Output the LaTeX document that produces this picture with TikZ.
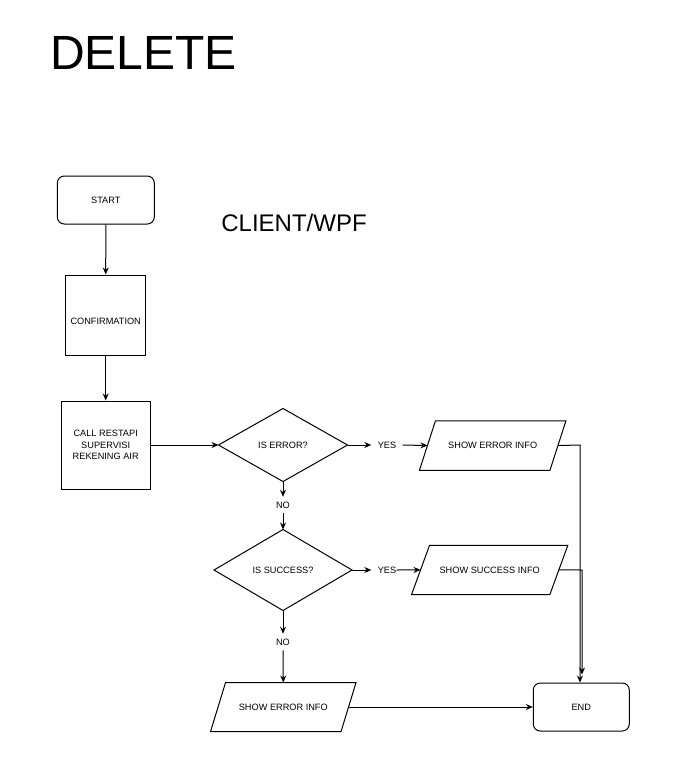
\documentclass[tikz,border=0pt]{standalone}
\usepackage{fontspec}
\setmainfont{Liberation Sans}
\usetikzlibrary{arrows.meta,calc}
\begin{document}
\begin{tikzpicture}[x=1pt,y=-1pt,
  every path/.style={line width=1pt},
  lbl/.style={font=\fontsize{9.2}{11.5}\selectfont, align=center, inner sep=0pt},
  term/.style={draw, rounded corners=7pt, line width=1pt, lbl, minimum width=97pt, minimum height=48pt},
  proc/.style={draw, line width=1pt, lbl},
  dec/.style={draw, line width=1pt, lbl, shape=diamond, aspect=1.8, inner sep=0pt},
  io/.style={lbl},
  edgelbl/.style={lbl, inner xsep=6pt, inner ysep=4.5pt},
  arr/.style={-{Stealth[length=7pt,width=6pt]}, line width=1pt}
]
\useasboundingbox (0,0) rectangle (684,777);
\fill[white] (0,0) rectangle (684,777);

% titles
\node[font=\fontsize{48}{48}\selectfont, anchor=center, inner sep=0pt] (title) at (143.5,53) {DELETE};
\node[font=\fontsize{24}{24}\selectfont, inner sep=0pt] (client) at (294,223) {CLIENT/WPF};

% nodes
\node[term] (start) at (105.8,200) {START};
\node[proc, minimum width=80pt, minimum height=80pt, text height=18.5pt, text depth=0pt] (conf) at (105.7,315) {CONFIRMATION};
\node[proc, minimum width=89pt, minimum height=88pt] (call) at (105.7,445) {CALL RESTAPI\\SUPERVISI\\REKENING AIR};

% diamonds drawn as paths with named coordinate-nodes
\node[lbl, minimum width=128pt, minimum height=72pt] (iserr) at (283,445) {IS ERROR?};
\draw (iserr.west) -- (iserr.north) -- (iserr.east) -- (iserr.south) -- cycle;
\node[lbl, minimum width=137pt, minimum height=80pt] (issucc) at (283,570) {IS SUCCESS?};
\draw (issucc.west) -- (issucc.north) -- (issucc.east) -- (issucc.south) -- cycle;

% parallelograms
\node[io, minimum width=129.5pt, minimum height=48.5pt] (err1) at (492.7,445.5) {SHOW ERROR INFO};
\draw ($(err1.north west)+(8,0)$) -- ($(err1.north east)+(8,0)$) -- ($(err1.south east)+(-8,0)$) -- ($(err1.south west)+(-8,0)$) -- cycle;
\node[io, minimum width=137.3pt, minimum height=48.3pt] (succ) at (489.7,569.9) {SHOW SUCCESS INFO};
\draw ($(succ.north west)+(9,0)$) -- ($(succ.north east)+(9,0)$) -- ($(succ.south east)+(-9,0)$) -- ($(succ.south west)+(-9,0)$) -- cycle;
\node[io, minimum width=129.5pt, minimum height=48pt] (err2) at (283.3,707) {SHOW ERROR INFO};
\draw ($(err2.north west)+(7.5,0)$) -- ($(err2.north east)+(7.5,0)$) -- ($(err2.south east)+(-7.5,0)$) -- ($(err2.south west)+(-7.5,0)$) -- cycle;

\node[term, minimum width=96pt] (end) at (581.3,707) {END};

% edge labels
\node[edgelbl] (yes1) at (387,445) {YES};
\node[edgelbl] (yes2) at (387,570) {YES};
\node[edgelbl] (no1) at (283,505) {NO};
\node[edgelbl] (no2) at (283,642) {NO};

% connectors
\draw[arr] (start) -- (conf);
\draw[arr] (conf) -- (call);
\draw[arr] (call.east) -- (iserr.west);
\draw[arr] (iserr.east) -- (yes1.west);
\draw[arr] (yes1.east) -- (err1.west);
\draw[arr] (iserr.south) -- (no1.north);
\draw[arr] (no1.south) -- (issucc.north);
\draw[arr] (issucc.east) -- (yes2.west);
\draw[arr] ([xshift=-6pt]yes2.east) -- (succ.west);
\draw[arr] (issucc.south) -- (no2.north);
\draw[arr] (no2.south) -- (err2.north);
\coordinate (c1) at (580,445);
\coordinate (c2) at (582,570);
\draw[arr] (err1.east) -- (c1) -- (c1 |- end.north);
\draw[arr, shorten >=8pt] (succ.east) -- (c2) -- (c2 |- end.north);
\draw[arr] (err2.east) -- (end.west);
\end{tikzpicture}
\end{document}
